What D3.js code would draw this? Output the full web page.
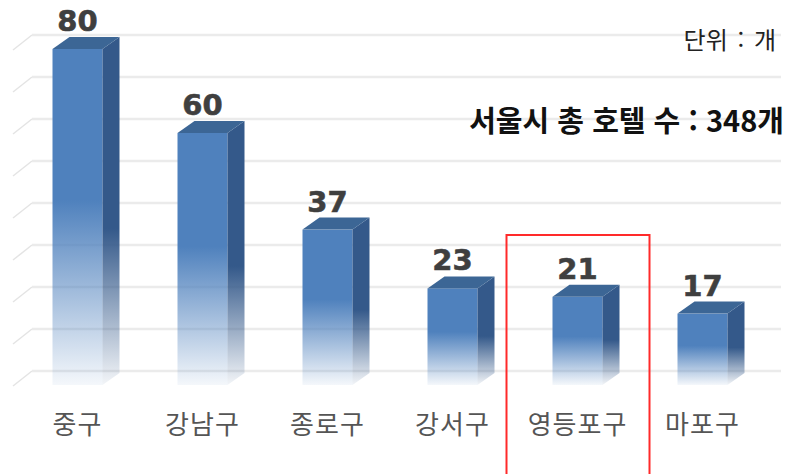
<!DOCTYPE html>
<html lang="ko">
<head>
<meta charset="utf-8">
<script src="https://cdn.jsdelivr.net/npm/d3@7"></script>
<style>
  body { margin: 0; background: #fff; }
  svg { display: block; }
  .cat-label { font-family: "Noto Sans CJK KR", sans-serif; font-size: 26px; letter-spacing: 1px; fill: #555; }
  .value-label { font-family: "DejaVu Sans", Verdana, sans-serif; font-weight: bold; font-size: 29px; fill: #3f3f3f; stroke: #3f3f3f; stroke-width: 0.6px; }
  .unit-label { font-family: "Noto Sans CJK KR", sans-serif; font-size: 24px; word-spacing: 3px; fill: #222; }
  .total-label { font-family: "Noto Sans CJK KR", sans-serif; font-weight: bold; font-size: 29px; fill: #111; }
</style>
</head>
<body>
<div id="chart-container"></div>
<script>
// data
const categories = ["중구", "강남구", "종로구", "강서구", "영등포구", "마포구"];
const hotelCounts = [80, 60, 37, 23, 21, 17];
const highlighted = "영등포구";
const unitText = "단위 : 개";
const totalText = "서울시 총 호텔 수 : 348개";

document.addEventListener('DOMContentLoaded', function() {
    // 1. setup
    const width = 793, height = 474;
    const depth = { dx: 17, dy: -12 };   // bar depth
    const wall = { dx: 19, dy: -14 };    // back wall offset for the grid

    const svg = d3.select("#chart-container").append("svg")
        .attr("width", width)
        .attr("height", height);

    const data = categories.map((c, i) => ({ name: c, value: hotelCounts[i] }));

    // 2. scales
    const x = d3.scaleBand()
        .domain(categories)
        .range([15, 765])
        .paddingInner(0.6)
        .paddingOuter(0.3);

    const y = d3.scaleLinear()
        .domain([0, 80])
        .range([385, 49]);

    // 3. gradients (fade toward the floor)
    const defs = svg.append("defs");
    function fade(id, color, start) {
        const g = defs.append("linearGradient")
            .attr("id", id)
            .attr("x1", 0).attr("y1", 0)
            .attr("x2", 0).attr("y2", 1);
        g.append("stop").attr("offset", "0").attr("stop-color", color).attr("stop-opacity", 1);
        g.append("stop").attr("offset", start).attr("stop-color", color).attr("stop-opacity", 1);
        g.append("stop").attr("offset", "1").attr("stop-color", color).attr("stop-opacity", 0.06);
    }
    fade("grad-front", "#4f81bd", 0.45);
    fade("grad-side", "#34598a", 0.55);

    // 4. grid lines with the little perspective stub on the left
    const grid = svg.append("g").attr("class", "grid");
    y.ticks(8).forEach(t => {
        const yy = y(t);
        grid.append("line")
            .attr("x1", 13).attr("y1", yy + 1)
            .attr("x2", 13 + wall.dx).attr("y2", yy + wall.dy)
            .attr("stroke", "#e4e4e4")
            .attr("stroke-width", 1.5);
        grid.append("line")
            .attr("x1", 13 + wall.dx).attr("y1", yy + wall.dy)
            .attr("x2", 781).attr("y2", yy + wall.dy)
            .attr("stroke", "#ebebeb")
            .attr("stroke-width", 2.5);
    });

    // 5. bars
    const w = x.bandwidth();
    const bars = svg.selectAll(".bar")
        .data(data)
        .enter()
        .append("g")
        .attr("class", "bar");

    bars.append("rect")
        .attr("x", d => x(d.name))
        .attr("y", d => y(d.value))
        .attr("width", w)
        .attr("height", d => y(0) - y(d.value))
        .attr("fill", "url(#grad-front)");

    bars.append("path")
        .attr("d", d => {
            const x1 = x(d.name) + w, yt = y(d.value), yb = y(0);
            return `M${x1},${yt}L${x1 + depth.dx},${yt + depth.dy}L${x1 + depth.dx},${yb + depth.dy}L${x1},${yb}Z`;
        })
        .attr("fill", "url(#grad-side)");

    bars.append("path")
        .attr("d", d => {
            const x0 = x(d.name), yt = y(d.value);
            return `M${x0},${yt}L${x0 + w},${yt}L${x0 + w + depth.dx},${yt + depth.dy}L${x0 + depth.dx},${yt + depth.dy}Z`;
        })
        .attr("fill", "#3c6695");

    // 6. labels
    bars.append("text")
        .attr("class", "value-label")
        .attr("x", d => x(d.name) + w / 2)
        .attr("y", d => y(d.value) - 18)
        .attr("text-anchor", "middle")
        .text(d => d.value);

    svg.append("g")
        .selectAll("text")
        .data(categories)
        .enter()
        .append("text")
        .attr("class", "cat-label")
        .attr("x", d => x(d) + w / 2)
        .attr("y", 434)
        .attr("text-anchor", "middle")
        .text(d => d);

    svg.append("text")
        .attr("class", "unit-label")
        .attr("x", 776)
        .attr("y", 49)
        .attr("text-anchor", "end")
        .text(unitText);

    svg.append("text")
        .attr("class", "total-label")
        .attr("x", 784)
        .attr("y", 132)
        .attr("text-anchor", "end")
        .text(totalText);

    // 7. red box around the highlighted district
    const cx = x(highlighted) + w / 2;
    svg.append("rect")
        .attr("x", cx - 71)
        .attr("y", 235)
        .attr("width", 143)
        .attr("height", 260)
        .attr("fill", "none")
        .attr("stroke", "#ff2a2a")
        .attr("stroke-width", 2);
});
</script>
</body>
</html>
